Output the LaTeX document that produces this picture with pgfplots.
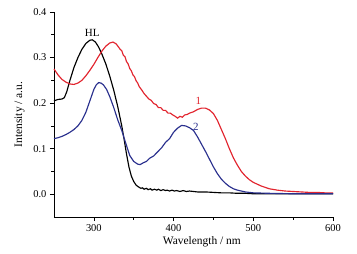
\documentclass[border=0pt]{standalone}
\usepackage{pgfplots}
\pgfplotsset{compat=1.18}
\usepackage{fontspec}
\setmainfont{Liberation Serif}
\definecolor{cred}{RGB}{226,36,46}
\definecolor{cblue}{RGB}{42,48,142}
\begin{document}
\begin{tikzpicture}
\path[use as bounding box, fill=white] (-54bp,-37bp) rectangle (303bp,217bp);
\begin{axis}[
  at={(0,0)}, anchor=south west,
  scale only axis, width=279bp, height=205bp,
  xmin=250, xmax=600, ymin=-0.05, ymax=0.4,
  axis x line*=bottom, axis y line*=left,
  axis line style={line width=0.8pt, -},
  xtick={300,400,500,600}, ytick={0,0.1,0.2,0.3,0.4},
  minor x tick num=1, minor y tick num=1,
  tick align=outside,
  major tick length=4bp, minor tick length=2.5bp,
  every tick/.style={line width=0.7pt, black},
  /pgf/number format/assume math mode=true,
  yticklabel style={/pgf/number format/.cd, fixed, fixed zerofill, precision=1},
  ticklabel style={font=\fontsize{10.5}{12}\selectfont},
  label style={font=\fontsize{11.5}{13}\selectfont},
  xlabel={Wavelength / nm}, ylabel={Intensity / a.u.},
  xlabel style={at={(ticklabel cs:0.53)}, yshift=2bp},
  ylabel style={yshift=2bp},
  every axis plot/.style={line width=1.15pt, no markers},
  clip=false,
]
\addplot[black] coordinates {
(250,0.205)(255,0.208)(260,0.209)(263,0.212)(266,0.225)(270,0.250)(275,0.278)
(280,0.300)(285,0.318)(290,0.331)(295,0.338)(298,0.339)(302,0.334)(306,0.323)
(310,0.308)(315,0.286)(320,0.259)(325,0.228)(330,0.192)(335,0.150)(338,0.120)
(341,0.088)(344,0.060)(347,0.040)(350,0.028)(353,0.020)(356,0.016)(359,0.013)
(361,0.014)(363,0.011)(366,0.013)(368,0.010)(371,0.012)(373,0.009)(376,0.011)
(379,0.009)(381,0.011)(384,0.008)(387,0.010)(390,0.008)(392,0.009)(395,0.007)
(398,0.009)(401,0.007)(404,0.008)(408,0.006)(412,0.008)(416,0.006)(420,0.007)
(430,0.005)(440,0.005)(450,0.004)(460,0.003)(470,0.003)(480,0.002)(490,0.002)
(500,0.001)(550,0.001)(600,0.001)
};
\addplot[cred] coordinates {
(250,0.275)(255,0.262)(260,0.252)(265,0.246)(270,0.242)(275,0.241)(280,0.244)
(285,0.250)(290,0.260)(295,0.272)(300,0.285)(305,0.300)(310,0.314)(315,0.325)
(320,0.332)(324,0.334)(328,0.330)(331,0.323)(333,0.318)(335,0.315)(337,0.305)
(339,0.302)(341,0.291)(343,0.286)(345,0.276)(347,0.271)(349,0.262)(351,0.258)
(353,0.249)(355,0.244)(357,0.236)(360,0.229)(363,0.221)(366,0.215)(369,0.209)
(372,0.206)(375,0.199)(378,0.197)(381,0.190)(384,0.190)(387,0.184)(390,0.184)
(393,0.178)(396,0.178)(399,0.174)(402,0.171)(405,0.167)(408,0.171)(411,0.169)
(414,0.174)(417,0.175)(420,0.178)(425,0.181)(430,0.186)(435,0.189)(440,0.189)
(445,0.185)(450,0.177)(455,0.162)(460,0.142)(465,0.122)(470,0.100)(475,0.080)
(480,0.064)(485,0.050)(490,0.040)(495,0.032)(500,0.026)(510,0.018)(520,0.012)
(530,0.009)(540,0.007)(550,0.006)(560,0.005)(570,0.004)(580,0.004)(590,0.003)(600,0.003)
};
\addplot[cblue] coordinates {
(250,0.122)(255,0.124)(260,0.127)(265,0.131)(270,0.136)(275,0.142)(280,0.150)
(285,0.162)(290,0.180)(295,0.205)(300,0.230)(303,0.240)(306,0.245)(309,0.244)
(312,0.240)(316,0.230)(320,0.214)(325,0.190)(330,0.163)(335,0.140)(340,0.112)
(345,0.085)(350,0.072)(355,0.066)(358,0.065)(362,0.069)(366,0.072)(370,0.079)
(375,0.084)(380,0.093)(385,0.102)(390,0.114)(395,0.122)(400,0.136)(405,0.145)
(410,0.151)(415,0.150)(420,0.146)(425,0.140)(430,0.126)(435,0.110)(440,0.094)
(445,0.077)(450,0.060)(455,0.045)(460,0.033)(465,0.024)(470,0.017)(475,0.012)
(480,0.009)(490,0.005)(500,0.003)(520,0.002)(550,0.001)(600,0.001)
};
\node[font=\fontsize{11}{13}\selectfont, black] at (axis cs:298,0.354) {HL};
\node[font=\fontsize{11}{13}\selectfont, cred] at (axis cs:431,0.205) {1};
\node[font=\fontsize{11}{13}\selectfont, cblue] at (axis cs:428,0.148) {2};
\end{axis}
\end{tikzpicture}
\end{document}
